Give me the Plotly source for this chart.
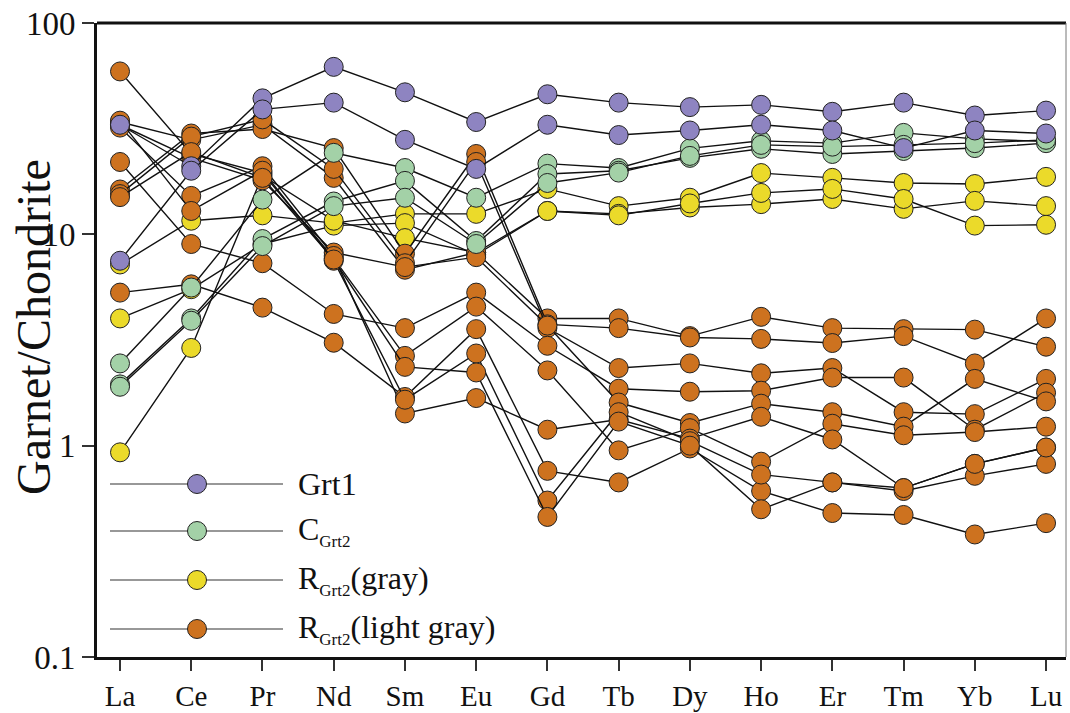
import plotly.graph_objects as go

elements = ["La", "Ce", "Pr", "Nd", "Sm", "Eu", "Gd", "Tb", "Dy", "Ho", "Er", "Tm", "Yb", "Lu"]

# Grt1
grt1_a = [33, 21, 44, 62, 47, 34, 46, 42, 40, 41, 38, 42, 36.5, 38.5]
grt1_b = [7.5, 20, 39, 42, 28, 20.4, 33, 29.5, 31, 33, 31, 25.6, 31, 30]

# C_Grt2
cgrt2_a = [2.45, 5.6, 14.6, 24.3, 20.6, 14.9, 21.6, 20.6, 25.5, 27.7, 27, 30.2, 28.3, 27.5]
cgrt2_b = [1.95, 4.0, 9.5, 14.3, 17.9, 9.3, 19.3, 20.0, 23.0, 25.4, 24.0, 24.8, 25.6, 27.0]
cgrt2_c = [1.9, 3.9, 8.8, 13.6, 14.9, 9.0, 17.5, 19.6, 23.5, 26.5, 26.0, 26.5, 27.0, 28.0]

# R_Grt2 (gray)
rgray_a = [7.2, 11.6, 12.3, 11.3, 12.5, 12.5, 16.4, 13.6, 14.9, 19.5, 18.5, 17.5, 17.3, 18.7]
rgray_b = [4.0, 5.5, 9.0, 11.0, 11.3, 8.0, 12.9, 12.5, 13.4, 13.9, 14.7, 13.2, 14.4, 13.6]
rgray_c = [0.93, 2.9, 19.0, 11.6, 9.6, 8.2, 12.9, 12.3, 14.0, 15.7, 16.4, 14.7, 11.0, 11.1]

# R_Grt2 (light gray)
rlight_a = [34, 28, 33, 18.5, 6.8, 8.2, 4.0, 4.0, 3.3, 4.07, 3.6, 3.56, 3.54, 2.94]
rlight_b = [16.3, 30, 31.5, 25.6, 8.1, 24, 3.75, 3.6, 3.25, 3.2, 3.06, 3.3, 2.45, 4.0]
rlight_c = [15.5, 29, 35, 20.4, 7.3, 22, 3.6, 2.33, 2.45, 2.2, 2.33, 1.44, 1.41, 2.07]
rlight_d = [22, 9.0, 7.3, 4.2, 3.6, 5.3, 2.97, 1.86, 1.8, 1.82, 2.1, 2.1, 1.19, 1.78]
rlight_e = [33, 23, 18, 8.2, 7.0, 7.8, 3.7, 1.6, 1.28, 1.58, 1.44, 1.23, 2.07, 1.62]
rlight_f = [59, 24, 19.5, 7.7, 2.66, 4.55, 2.27, 0.95, 1.21, 0.84, 1.27, 1.12, 1.16, 1.23]
rlight_g = [32, 15.2, 21, 7.9, 1.42, 1.68, 1.19, 1.33, 1.08, 1.37, 1.07, 0.63, 0.82, 0.98]
rlight_h = [5.3, 5.8, 4.5, 3.07, 1.7, 3.56, 0.76, 0.67, 0.97, 0.61, 0.48, 0.47, 0.38, 0.43]
rlight_i = [34.5, 12.9, 20, 7.5, 1.65, 2.73, 0.55, 1.44, 1.05, 0.73, 0.67, 0.61, 0.72, 0.82]
rlight_j = [15, 24.5, 18.5, 7.6, 2.36, 2.22, 0.46, 1.3, 1.0, 0.50, 0.67, 0.63, 0.82, 0.98]

legend_labels = ["Grt1", "C<sub>Grt2</sub>", "R<sub>Grt2</sub>(gray)", "R<sub>Grt2</sub>(light gray)"]

COL_P = "#8E84C1"
COL_G = "#A3D1A7"
COL_Y = "#EBDA2A"
COL_O = "#CD721F"

groups = [
    (COL_Y, [rgray_a, rgray_b, rgray_c]),
    (COL_O, [rlight_a, rlight_b, rlight_c, rlight_d, rlight_e, rlight_f, rlight_g, rlight_h, rlight_i, rlight_j]),
    (COL_G, [cgrt2_a, cgrt2_b, cgrt2_c]),
    (COL_P, [grt1_a, grt1_b]),
]

FONT = "Liberation Serif"
fig = go.Figure()

for col, series in groups:
    for s in series:
        fig.add_trace(go.Scatter(
            x=elements, y=s, mode="lines+markers",
            line=dict(color="#111111", width=1.4),
            marker=dict(size=19, color=col, line=dict(color="#222222", width=1)),
            showlegend=False, hoverinfo="skip"))

# custom legend drawn on an overlay axis (0..1 over plot area)
W, H = 969.0, 634.0
leg_y = [(656 - 483) / H, (656 - 530) / H, (656 - 579) / H, (656 - 628) / H]
leg_cols = [COL_P, COL_G, COL_Y, COL_O]
x0, x1, xm = (110 - 97) / W, (283 - 97) / W, (197 - 97) / W
for yy, col, lab in zip(leg_y, leg_cols, legend_labels):
    fig.add_trace(go.Scatter(x=[x0, x1], y=[yy, yy], mode="lines", xaxis="x2", yaxis="y2",
                             line=dict(color="#333333", width=1.2), showlegend=False, hoverinfo="skip"))
    fig.add_trace(go.Scatter(x=[xm], y=[yy], mode="markers", xaxis="x2", yaxis="y2",
                             marker=dict(size=19, color=col, line=dict(color="#222222", width=1)),
                             showlegend=False, hoverinfo="skip"))
    txt = lab.replace("<sub>", "<sub><span style='font-size:17px'>").replace("</sub>", "</span></sub>")
    fig.add_annotation(x=(296 - 97) / W, y=yy, xref="paper", yref="paper", text=txt,
                       showarrow=False, xanchor="left", yanchor="middle",
                       font=dict(family=FONT, size=32, color="#111111"))

fig.add_annotation(x=(33 - 97) / W, y=(656 - 326) / H, xref="paper", yref="paper",
                   text="Garnet/Chondrite", textangle=-90, showarrow=False,
                   xanchor="center", yanchor="middle",
                   font=dict(family=FONT, size=48, color="#111111"))

# top (thick) and right (thin) frame lines
fig.add_shape(type="line", xref="paper", yref="paper", x0=0, x1=1, y0=1, y1=1,
              line=dict(color="#111111", width=3))
fig.add_shape(type="line", xref="paper", yref="paper", x0=1, x1=1, y0=0, y1=1,
              line=dict(color="#777777", width=1))

fig.update_layout(
    width=1070, height=713,
    margin=dict(l=97, r=4, t=23, b=56, autoexpand=False),
    paper_bgcolor="white", plot_bgcolor="white",
    showlegend=False,
    xaxis=dict(type="category", range=[-0.323, 13.28], showgrid=False, zeroline=False,
               automargin=False,
               showline=True, linewidth=3, linecolor="#111111",
               ticks="outside", ticklen=11, tickwidth=1.5, tickcolor="#333333",
               tickfont=dict(family=FONT, size=29, color="#111111")),
    yaxis=dict(type="log", range=[-1, 2], showgrid=False, zeroline=False,
               automargin=False,
               showline=True, linewidth=3, linecolor="#111111",
               tickvals=[0.1, 1, 10, 100], ticktext=["0.1", "1", "10", "100"],
               ticks="outside", ticklen=12, tickwidth=1.5, tickcolor="#333333",
               tickfont=dict(family=FONT, size=33, color="#111111")),
    xaxis2=dict(overlaying="x", range=[0, 1], visible=False, fixedrange=True),
    yaxis2=dict(overlaying="y", range=[0, 1], visible=False, fixedrange=True),
)

fig.write_html("out.html", config={"displayModeBar": False},
               post_script="document.body.style.margin='0';document.body.style.overflow='hidden';")
